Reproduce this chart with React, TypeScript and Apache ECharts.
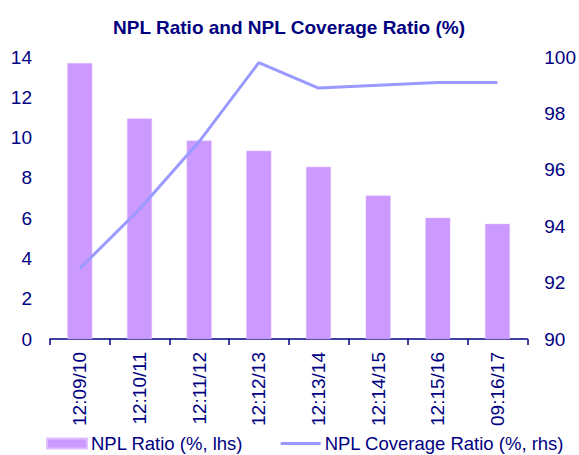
import React, { useEffect, useRef } from "react";
import * as echarts from "echarts";

const categories = ["12:09/10", "12:10/11", "12:11/12", "12:12/13", "12:13/14", "12:14/15", "12:15/16", "09:16/17"];
const nplRatio = [13.7, 10.95, 9.85, 9.35, 8.55, 7.12, 6.02, 5.72];
const coverageRatio = [92.5, 94.6, 97.0, 99.8, 98.9, 99.0, 99.1, 99.1];
const barName = "NPL Ratio (%, lhs)";
const lineName = "NPL Coverage Ratio (%, rhs)";
const titleText = "NPL Ratio and NPL Coverage Ratio (%)";

const NAVY = "#000080";
const FONT = "'Liberation Sans', Arial, sans-serif";

export default function App() {
  const ref = useRef<HTMLDivElement>(null);
  useEffect(() => {
    if (!ref.current) return;
    const chart = echarts.init(ref.current, undefined, { renderer: "svg" });
    chart.setOption({
      animation: false,
      textStyle: { fontFamily: FONT, color: NAVY },
      title: {
        text: titleText,
        left: 284,
        textAlign: "center",
        top: 13,
        textStyle: { fontFamily: FONT, fontSize: 19, fontWeight: "bold", color: NAVY },
      },
      legend: {
        left: 46,
        top: 434,
        padding: 0,
        itemWidth: 40,
        itemHeight: 10,
        itemGap: 36,
        textStyle: { fontFamily: FONT, fontSize: 18.5, lineHeight: 18, color: NAVY, padding: [0, 0, 0, -1] },
        data: [
          { name: barName, icon: "rect" },
          { name: lineName, itemStyle: { opacity: 0 }, lineStyle: { width: 3, color: "#9999FF" } },
        ],
      },
      grid: { left: 50, right: 41, top: 57, bottom: 116, containLabel: false },
      xAxis: {
        type: "category",
        data: categories,
        boundaryGap: true,
        axisLine: { lineStyle: { color: NAVY, width: 1.5 } },
        axisTick: { show: true, length: 6, inside: false, lineStyle: { color: NAVY, width: 1.5 } },
        axisLabel: {
          rotate: 90,
          margin: 13,
          fontSize: 19,
          fontFamily: FONT,
          color: NAVY,
          interval: 0,
        },
      },
      yAxis: [
        {
          type: "value",
          min: 0,
          max: 14,
          interval: 2,
          axisLine: { show: false },
          axisTick: { show: false },
          splitLine: { show: false },
          axisLabel: { fontSize: 19, fontFamily: FONT, color: NAVY, margin: 18 },
        },
        {
          type: "value",
          min: 90,
          max: 100,
          interval: 2,
          position: "right",
          axisLine: { show: false },
          axisTick: { show: false },
          splitLine: { show: false },
          axisLabel: { fontSize: 19, fontFamily: FONT, color: NAVY, margin: 17 },
        },
      ],
      series: [
        {
          name: barName,
          type: "bar",
          data: nplRatio,
          yAxisIndex: 0,
          barWidth: 25,
          itemStyle: { color: "#CC99FF", borderColor: "#E0C0FF", borderWidth: 0.5 },
        },
        {
          name: lineName,
          type: "line",
          data: coverageRatio,
          yAxisIndex: 1,
          symbol: "none",
          lineStyle: { color: "#9999FF", width: 3 },
          itemStyle: { color: "#9999FF" },
        },
      ],
    });
    return () => chart.dispose();
  }, []);
  return (
    <div
      ref={ref}
      style={{ position: "fixed", left: 0, top: 0, width: 579, height: 455, background: "#fff" }}
    />
  );
}
